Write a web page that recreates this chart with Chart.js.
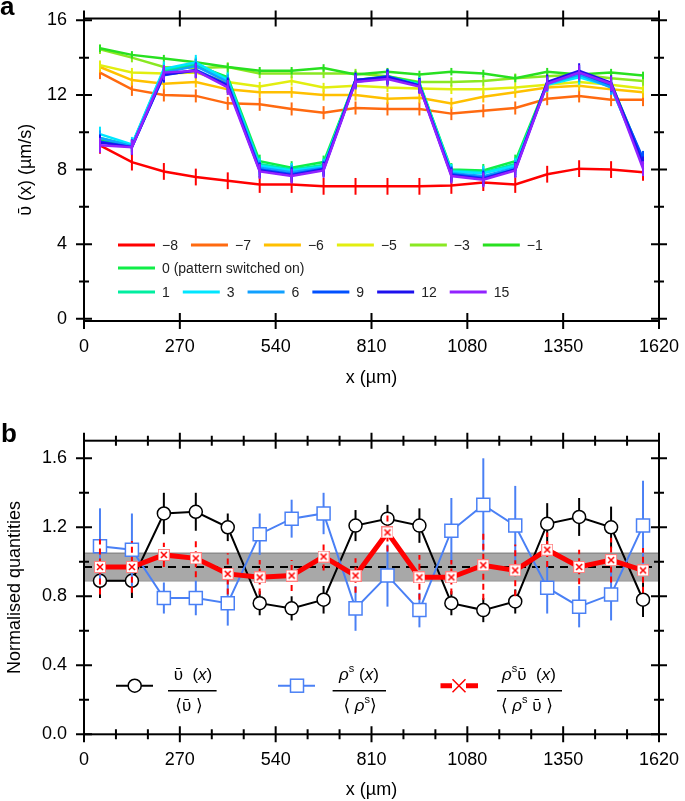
<!DOCTYPE html>
<html>
<head>
<meta charset="utf-8">
<script src="https://cdn.jsdelivr.net/npm/chart.js@4.4.1/dist/chart.umd.min.js"></script>
<style>
  html, body { margin: 0; padding: 0; background: #fff; overflow: hidden; }
  #wrap { position: relative; width: 685px; height: 801px; }
  .box { position: absolute; left: 0; width: 685px; }
  .tag { position: absolute; font: bold 26px 'Liberation Sans', Arial, sans-serif; line-height: 26px; }
</style>
</head>
<body>
<div id="wrap">
  <div class="box" style="top:0;height:395px"><canvas id="chart-a"></canvas></div>
  <div class="box" style="top:400px;height:401px"><canvas id="chart-b"></canvas></div>
  <div class="tag" style="left:0;top:-7px">a</div>
  <div class="tag" style="left:1px;top:420px">b</div>
</div>
<script>
// positions along the channel (µm)
const xPos = [45, 135, 225, 315, 405, 495, 585, 675, 765, 855, 945, 1035, 1125, 1215, 1305, 1395, 1485, 1575];
const xTicks = [0, 270, 540, 810, 1080, 1350, 1620];

// panel a: mean velocity (µm/s), one array per time
const labelsA = ['\u22128', '\u22127', '\u22126', '\u22125', '\u22123', '\u22121', '0 (pattern switched on)', '1', '3', '6', '9', '12', '15'];
const colorsA = ['#ff0000', '#ff6a10', '#ffc000', '#e2ee10', '#8ae822', '#28e020', '#10ee48', '#00eea0', '#00e6ff', '#10a0ff', '#0050ff', '#1c10ee', '#9222ff'];
const vM8 = [9.3, 8.4, 7.9, 7.6, 7.4, 7.2, 7.2, 7.1, 7.1, 7.1, 7.1, 7.15, 7.3, 7.2, 7.75, 8.05, 8.0, 7.85];
const vM7 = [13.2, 12.3, 12.0, 11.95, 11.55, 11.5, 11.25, 11.05, 11.3, 11.25, 11.25, 11.0, 11.15, 11.3, 11.8, 11.95, 11.75, 11.75];
const vM6 = [13.5, 12.8, 12.6, 12.7, 12.3, 12.15, 12.15, 12.0, 12.0, 11.8, 11.85, 11.55, 11.9, 12.15, 12.4, 12.5, 12.3, 12.15];
const vM5 = [13.6, 13.2, 13.15, 13.2, 12.7, 12.45, 12.75, 12.4, 12.5, 12.4, 12.35, 12.3, 12.3, 12.4, 12.55, 12.7, 12.55, 12.35];
const vM3 = [14.45, 14.0, 13.5, 13.45, 13.5, 13.15, 13.15, 13.15, 13.15, 13.0, 12.7, 12.7, 12.75, 12.9, 13.0, 13.1, 12.9, 12.75];
const vM1 = [14.5, 14.15, 13.95, 13.75, 13.5, 13.3, 13.3, 13.45, 13.1, 13.25, 13.1, 13.25, 13.15, 12.9, 13.25, 13.1, 13.2, 13.05];
const v0 = [9.6, 9.3, 13.3, 13.6, 12.95, 8.45, 8.1, 8.4, 12.8, 13.0, 12.65, 8.0, 7.95, 8.45, 12.65, 13.05, 12.65, 8.5];
const v1 = [9.7, 9.3, 13.35, 13.7, 12.85, 8.3, 8.0, 8.25, 12.8, 12.95, 12.6, 7.95, 7.85, 8.3, 12.6, 13.0, 12.55, 8.4];
const v3 = [9.9, 9.35, 13.4, 13.75, 12.8, 8.2, 7.95, 8.15, 12.75, 12.95, 12.55, 7.9, 7.8, 8.2, 12.55, 12.95, 12.45, 8.3];
const v6 = [9.7, 9.25, 13.2, 13.55, 12.7, 8.1, 7.85, 8.1, 12.7, 12.95, 12.5, 7.8, 7.65, 8.1, 12.6, 13.1, 12.4, 8.45];
const v9 = [9.5, 9.2, 13.05, 13.35, 12.55, 8.0, 7.75, 8.05, 12.75, 13.0, 12.5, 7.75, 7.55, 8.0, 12.65, 13.2, 12.55, 8.6];
const v12 = [9.45, 9.2, 13.1, 13.3, 12.5, 7.95, 7.7, 8.0, 12.8, 12.95, 12.5, 7.7, 7.5, 8.0, 12.7, 13.3, 12.65, 8.3];
const v15 = [9.3, 9.2, 13.2, 13.3, 12.4, 7.9, 7.65, 7.95, 12.7, 12.85, 12.45, 7.65, 7.45, 7.95, 12.6, 13.2, 12.6, 8.05];
const errA = [0.45, 0.35, 0.3, 0.25, 0.25, 0.2, 0.35, 0.35, 0.4, 0.4, 0.4, 0.4, 0.4];
const yTicksA = [0, 4, 8, 12, 16];

// panel b: normalised quantities
const ratioV = [0.89, 0.89, 1.28, 1.29, 1.20, 0.76, 0.73, 0.78, 1.21, 1.25, 1.21, 0.76, 0.72, 0.77, 1.22, 1.26, 1.20, 0.78];
const errV = [0.1, 0.1, 0.12, 0.11, 0.08, 0.07, 0.07, 0.08, 0.09, 0.08, 0.1, 0.07, 0.07, 0.07, 0.12, 0.11, 0.12, 0.1];
const ratioRho = [1.09, 1.07, 0.79, 0.79, 0.76, 1.16, 1.25, 1.28, 0.73, 0.92, 0.72, 1.18, 1.33, 1.21, 0.85, 0.74, 0.81, 1.21];
const errRho = [0.22, 0.21, 0.09, 0.1, 0.13, 0.12, 0.11, 0.12, 0.13, 0.18, 0.1, 0.19, 0.27, 0.23, 0.15, 0.12, 0.15, 0.26];
const ratioFlux = [0.97, 0.97, 1.04, 1.02, 0.93, 0.91, 0.92, 1.03, 0.92, 1.17, 0.91, 0.91, 0.98, 0.95, 1.07, 0.97, 1.01, 0.95];
const errFlux = [0.16, 0.15, 0.07, 0.11, 0.12, 0.1, 0.09, 0.08, 0.1, 0.11, 0.13, 0.1, 0.2, 0.15, 0.1, 0.1, 0.13, 0.13];
const bandLow = 0.89, bandHigh = 1.05, meanLine = 0.97;
const yTicksB = [0, 0.4, 0.8, 1.2, 1.6];

const fontFam = "'Liberation Sans', Arial, 'DejaVu Sans', sans-serif";
Chart.defaults.font.family = fontFam;
Chart.defaults.color = '#000';
Chart.defaults.animation = false;

const pts = vals => vals.map((v, i) => ({x: xPos[i], y: v}));
const flat = v => [{x: 0, y: v}, {x: 1620, y: v}];

// vertical error bars, drawn just under their own dataset
const errorBars = {
  id: 'errorBars',
  beforeDatasetDraw(chart, args) {
    const ds = chart.data.datasets[args.index];
    if (ds.errors === undefined) return;
    const ctx = chart.ctx, sy = chart.scales.y;
    ctx.save();
    ctx.strokeStyle = ds.borderColor;
    ctx.lineWidth = 2;
    ctx.setLineDash(ds.errorDash || []);
    args.meta.data.forEach((p, i) => {
      const v = ds.data[i].y;
      const e = Array.isArray(ds.errors) ? ds.errors[i] : ds.errors;
      ctx.beginPath();
      ctx.moveTo(p.x, sy.getPixelForValue(v - e));
      ctx.lineTo(p.x, sy.getPixelForValue(v + e));
      ctx.stroke();
    });
    ctx.restore();
  }
};

// box frame with ticks crossing all four sides
const frameTicks = {
  id: 'frameTicks',
  afterDatasetsDraw(chart, args, o) {
    const {ctx, chartArea: a} = chart;
    const sx = chart.scales.x, sy = chart.scales.y;
    ctx.save();
    ctx.strokeStyle = '#000';
    ctx.lineWidth = 2;
    ctx.strokeRect(a.left, a.top, a.right - a.left, a.bottom - a.top);
    ctx.beginPath();
    for (let i = 0; i * o.xStep <= sx.max + 1e-6; i++) {
      const px = sx.getPixelForValue(i * o.xStep), h = i % o.xMajor === 0 ? 8 : 5;
      ctx.moveTo(px, a.bottom - h); ctx.lineTo(px, a.bottom + h);
      ctx.moveTo(px, a.top - h); ctx.lineTo(px, a.top + h);
    }
    for (let j = 0; j * o.yStep <= sy.max + 1e-6; j++) {
      const py = sy.getPixelForValue(j * o.yStep), h = j % o.yMajor === 0 ? 8 : 5;
      ctx.moveTo(a.left - h, py); ctx.lineTo(a.left + h, py);
      ctx.moveTo(a.right - h, py); ctx.lineTo(a.right + h, py);
    }
    ctx.stroke();
    ctx.restore();
  }
};

const legendA = {
  id: 'legendA',
  afterDraw(chart) {
    const ctx = chart.ctx;
    const rows = [[0, 1, 2, 3, 4, 5], [6], [7, 8, 9, 10, 11, 12]];
    const rowY = [245, 268, 292];
    ctx.save();
    ctx.font = '14px ' + fontFam;
    ctx.textBaseline = 'middle';
    rows.forEach((r, k) => {
      let x = 118;
      r.forEach(i => {
        ctx.strokeStyle = colorsA[i];
        ctx.lineWidth = 3;
        ctx.beginPath(); ctx.moveTo(x, rowY[k]); ctx.lineTo(x + 37, rowY[k]); ctx.stroke();
        ctx.fillStyle = '#222';
        ctx.fillText(labelsA[i], x + 44, rowY[k] + 1);
        x += 44 + ctx.measureText(labelsA[i]).width + 13;
      });
    });
    ctx.restore();
  }
};

function richText(ctx, parts, cx, cy) {
  const fontOf = p => (p[1] === 'i' ? 'italic ' : '') + (p[1] === 's' ? '11px ' : '17px ') + fontFam;
  let w = 0;
  parts.forEach(p => { ctx.font = fontOf(p); w += ctx.measureText(p[0]).width; });
  let x = cx - w / 2;
  parts.forEach(p => {
    ctx.font = fontOf(p);
    ctx.fillText(p[0], x, p[1] === 's' ? cy - 6 : cy);
    x += ctx.measureText(p[0]).width;
  });
}

const legendB = {
  id: 'legendB',
  afterDraw(chart) {
    const ctx = chart.ctx, my = 285.7, bar = 290.7;
    ctx.save();
    ctx.textBaseline = 'middle';
    // black circles
    ctx.strokeStyle = '#000'; ctx.lineWidth = 2;
    ctx.beginPath(); ctx.moveTo(116, my); ctx.lineTo(153, my); ctx.stroke();
    ctx.fillStyle = '#fff'; ctx.lineWidth = 1.5;
    ctx.beginPath(); ctx.arc(134.7, my, 6.5, 0, Math.PI * 2); ctx.fill(); ctx.stroke();
    // blue squares
    ctx.strokeStyle = '#4a80f5'; ctx.lineWidth = 2;
    ctx.beginPath(); ctx.moveTo(278, my); ctx.lineTo(315, my); ctx.stroke();
    ctx.lineWidth = 1.5;
    ctx.fillRect(290.5, my - 6.5, 13, 13); ctx.strokeRect(290.5, my - 6.5, 13, 13);
    // red crosses
    ctx.strokeStyle = '#ff0000'; ctx.lineWidth = 5;
    ctx.beginPath(); ctx.moveTo(440.5, my); ctx.lineTo(452, my); ctx.moveTo(466, my); ctx.lineTo(478, my); ctx.stroke();
    ctx.lineWidth = 1.5;
    ctx.beginPath(); ctx.moveTo(452.5, my - 6.5); ctx.lineTo(465.5, my + 6.5); ctx.moveTo(465.5, my - 6.5); ctx.lineTo(452.5, my + 6.5); ctx.stroke();
    // fractions
    ctx.fillStyle = '#000'; ctx.strokeStyle = '#000'; ctx.lineWidth = 1.5;
    ctx.beginPath();
    ctx.moveTo(168, bar); ctx.lineTo(216.6, bar);
    ctx.moveTo(332.6, bar); ctx.lineTo(386, bar);
    ctx.moveTo(497, bar); ctx.lineTo(562, bar);
    ctx.stroke();
    richText(ctx, [['\u1FE1', 'n'], ['  (', 'n'], ['x', 'i'], [')', 'n']], 193, 275);
    richText(ctx, [['\u27E8', 'n'], ['\u1FE1', 'n'], [' \u27E9', 'n']], 189, 306);
    richText(ctx, [['\u03C1', 'i'], ['s', 's'], [' (', 'n'], ['x', 'i'], [')', 'n']], 359, 275);
    richText(ctx, [['\u27E8 ', 'n'], ['\u03C1', 'i'], ['s', 's'], ['\u27E9', 'n']], 360, 306);
    richText(ctx, [['\u03C1', 'i'], ['s', 's'], ['\u1FE1', 'n'], ['  (', 'n'], ['x', 'i'], [')', 'n']], 529, 275);
    richText(ctx, [['\u27E8 ', 'n'], ['\u03C1', 'i'], ['s', 's'], [' \u1FE1 ', 'n'], ['\u27E9', 'n']], 527, 306);
    ctx.restore();
  }
};

function crossMarker() {
  const c = document.createElement('canvas');
  c.width = 12; c.height = 12;
  const g = c.getContext('2d');
  g.fillStyle = '#fff'; g.fillRect(0, 0, 12, 12);
  g.strokeStyle = '#ff8080'; g.lineWidth = 1; g.strokeRect(0.5, 0.5, 11, 11);
  g.strokeStyle = '#ff0000'; g.lineWidth = 1.5;
  g.beginPath(); g.moveTo(3, 3); g.lineTo(9, 9); g.moveTo(9, 3); g.lineTo(3, 9); g.stroke();
  return c;
}

// tick labels are placed through the (hidden) tick length, so that padding
// does not push the plot area inwards
const axisX = (h) => ({
  type: 'linear', min: 0, max: 1620,
  afterBuildTicks: s => { s.ticks = xTicks.map(v => ({value: v})); },
  afterFit: s => { s.height = h; },
  grid: {display: false, drawTicks: true, tickLength: 15},
  border: {display: false},
  ticks: {padding: 0, font: {size: 18}, color: '#000', maxRotation: 0, autoSkip: false, callback: v => String(v)},
  title: {display: true, text: 'x (\u00B5m)', font: {size: 18}, padding: 0}
});

const axisY = (min, max, ticks, w, title, fmt) => ({
  type: 'linear', min: min, max: max,
  afterBuildTicks: s => { s.ticks = ticks.map(v => ({value: v})); },
  afterFit: s => { s.width = w; },
  grid: {display: false, drawTicks: true, tickLength: 17},
  border: {display: false},
  ticks: {padding: 0, font: {size: 18}, color: '#000', callback: fmt},
  title: {display: true, text: title, font: {size: 18}, padding: 0}
});

(() => {
  const seriesA = [vM8, vM7, vM6, vM5, vM3, vM1, v0, v1, v3, v6, v9, v12, v15];
  new Chart(document.getElementById('chart-a'), {
    type: 'line',
    data: {
      datasets: seriesA.map((s, i) => ({
        label: labelsA[i],
        data: pts(s),
        borderColor: colorsA[i],
        borderWidth: 2.5,
        pointRadius: 0,
        errors: errA[i],
        order: seriesA.length - i
      }))
    },
    options: {
      responsive: true, maintainAspectRatio: false, events: [],
      layout: {padding: {left: 15.2, top: 18.5, right: 26, bottom: 6}},
      scales: {
        x: axisX(68),
        y: axisY(-0.12, 16.1, yTicksA, 68.8, '\u1FE1 (x) (\u00B5m/s)', v => String(v))
      },
      plugins: {
        legend: {display: false}, tooltip: {enabled: false},
        frameTicks: {xStep: 270, xMajor: 1, yStep: 2, yMajor: 2}
      }
    },
    plugins: [errorBars, frameTicks, legendA]
  });

  new Chart(document.getElementById('chart-b'), {
    type: 'line',
    data: {
      datasets: [
        {data: pts(ratioFlux), borderColor: '#ff0000', borderWidth: 5, pointStyle: crossMarker(),
         errors: errFlux, errorDash: [6, 4], order: 0},
        {data: pts(ratioRho), borderColor: '#4a80f5', borderWidth: 2, pointStyle: 'rect', pointRadius: 9.2,
         pointBackgroundColor: '#fff', pointBorderWidth: 1.5, errors: errRho, order: 1},
        {data: pts(ratioV), borderColor: '#000', borderWidth: 2, pointStyle: 'circle', pointRadius: 6.5,
         pointBackgroundColor: '#fff', pointBorderWidth: 1.5, errors: errV, order: 2},
        {data: flat(meanLine), borderColor: '#000', borderWidth: 2, borderDash: [8, 6], pointRadius: 0, order: 3},
        {data: flat(bandHigh), borderColor: '#8c8c8c', borderWidth: 1.5, pointRadius: 0,
         fill: '+1', backgroundColor: '#a8a8a8', order: 4},
        {data: flat(bandLow), borderColor: '#8c8c8c', borderWidth: 1.5, pointRadius: 0, order: 5}
      ]
    },
    options: {
      responsive: true, maintainAspectRatio: false, events: [],
      layout: {padding: {left: 4.2, top: 40.7, right: 26, bottom: 0}},
      scales: {
        x: axisX(66.7),
        y: axisY(0, 1.702, yTicksB, 79.8, 'Normalised quantities', v => v.toFixed(1))
      },
      plugins: {
        legend: {display: false}, tooltip: {enabled: false},
        frameTicks: {xStep: 90, xMajor: 3, yStep: 0.2, yMajor: 2}
      }
    },
    plugins: [errorBars, frameTicks, legendB]
  });
})();
</script>
</body>
</html>
